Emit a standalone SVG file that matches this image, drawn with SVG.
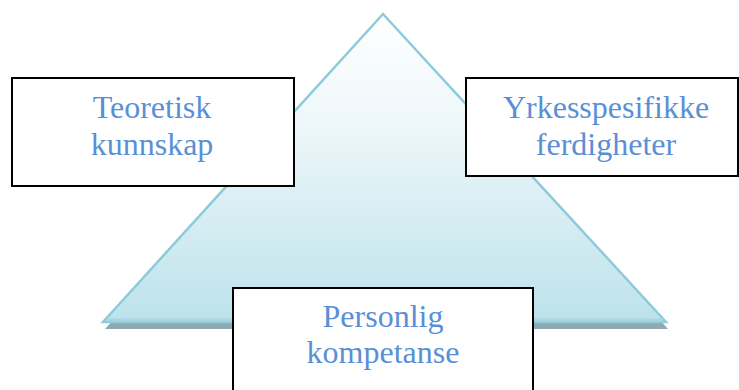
<svg xmlns="http://www.w3.org/2000/svg" width="739" height="390" viewBox="0 0 739 390">
<defs>
<linearGradient id="tri" x1="0" y1="0" x2="0" y2="1">
<stop offset="0" stop-color="#ffffff"/>
<stop offset="0.35" stop-color="#eef7fa"/>
<stop offset="1" stop-color="#bde2eb"/>
</linearGradient>
<style>
.box{fill:#ffffff;stroke:#000000;stroke-width:2}
.lbl{font-family:"Liberation Serif","Times New Roman",serif;font-size:32px;fill:#5a8fd6;text-anchor:middle}
</style>
</defs>
<g id="pyramid">
<polygon points="385,20 105,329 668,329" fill="#90a9b0"/>
<polygon points="383,14 103,322 666,322" fill="url(#tri)" stroke="#8ccbdc" stroke-width="2.5" stroke-linejoin="miter"/>
<line x1="106" y1="320" x2="663" y2="320" stroke="#a8d6e3" stroke-width="3"/>
</g>
<g id="connectors"></g>
<g id="node-teoretisk">
<rect class="box" x="12" y="78" width="282" height="108"/>
<text class="lbl" x="152" y="118">Teoretisk</text>
<text class="lbl" x="152" y="155">kunnskap</text>
</g>
<g id="node-yrkes">
<rect class="box" x="466" y="78" width="272" height="98"/>
<text class="lbl" x="606" y="118">Yrkesspesifikke</text>
<text class="lbl" x="606" y="155">ferdigheter</text>
</g>
<g id="node-personlig">
<rect class="box" x="233" y="288" width="300" height="110"/>
<text class="lbl" x="383" y="327">Personlig</text>
<text class="lbl" x="383" y="363">kompetanse</text>
</g>
</svg>
